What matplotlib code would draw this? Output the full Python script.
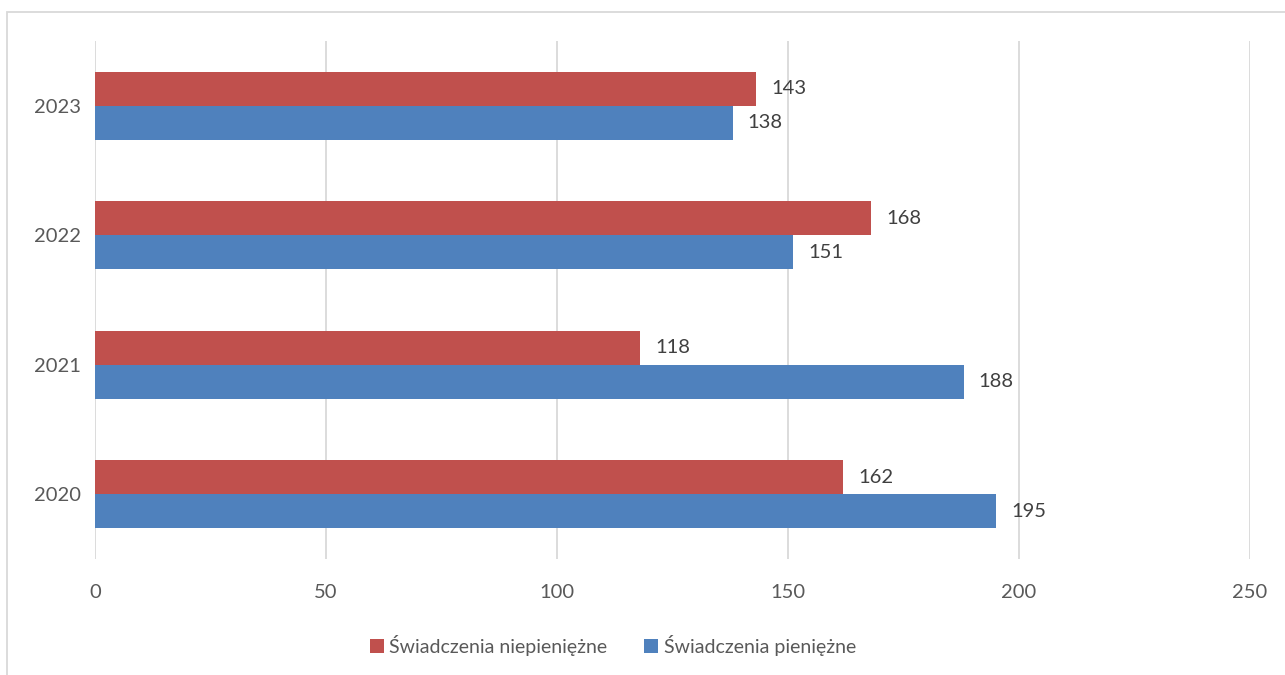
import numpy as np
import matplotlib.pyplot as plt
from matplotlib.patches import Rectangle

# Dane
lata = ['2020', '2021', '2022', '2023']
niepieniezne = [162, 118, 168, 143]
pieniezne = [195, 188, 151, 138]

plt.rcParams['font.family'] = ['Lato', 'DejaVu Sans']

fig = plt.figure(figsize=(12.85, 6.75), dpi=100)
ax = fig.add_axes([95 / 1285, 1 - 559 / 675, (1250 - 95) / 1285, (559 - 41) / 675])

y = np.arange(len(lata))
h = 0.263
b1 = ax.barh(y + h / 2, niepieniezne, height=h, color='#C0504D', label='Świadczenia niepieniężne')
b2 = ax.barh(y - h / 2, pieniezne, height=h, color='#4F81BD', label='Świadczenia pieniężne')

for b in (b1, b2):
    ax.bar_label(b, padding=11, fontsize=14.5, color='#404040')

ax.set_xlim(0, 250)
ax.set_ylim(-0.5, 3.5)
ax.set_xticks(range(0, 251, 50))
ax.set_yticks(y)
ax.set_yticklabels(lata)
ax.tick_params(length=0, labelsize=14.5, labelcolor='#595959')
ax.tick_params(axis='x', pad=18)
ax.tick_params(axis='y', pad=10)
ax.grid(axis='x', color='#D9D9D9', linewidth=1.3)
ax.set_axisbelow(True)
for s in ax.spines.values():
    s.set_visible(False)

fig.legend(handles=[b1, b2], loc='center', bbox_to_anchor=(613 / 1285, 1 - 645 / 675),
           ncol=2, frameon=False, fontsize=14, labelcolor='#595959',
           handlelength=0.7, handleheight=0.7, handletextpad=0.3, columnspacing=1.9)

# ramka wykresu
fig.patches.append(Rectangle((7 / 1285, -0.1), 1.2, 1.1 - 12 / 675, transform=fig.transFigure,
                             fill=False, edgecolor='#D9D9D9', linewidth=1.3))

fig.savefig('out.png', dpi=100)
